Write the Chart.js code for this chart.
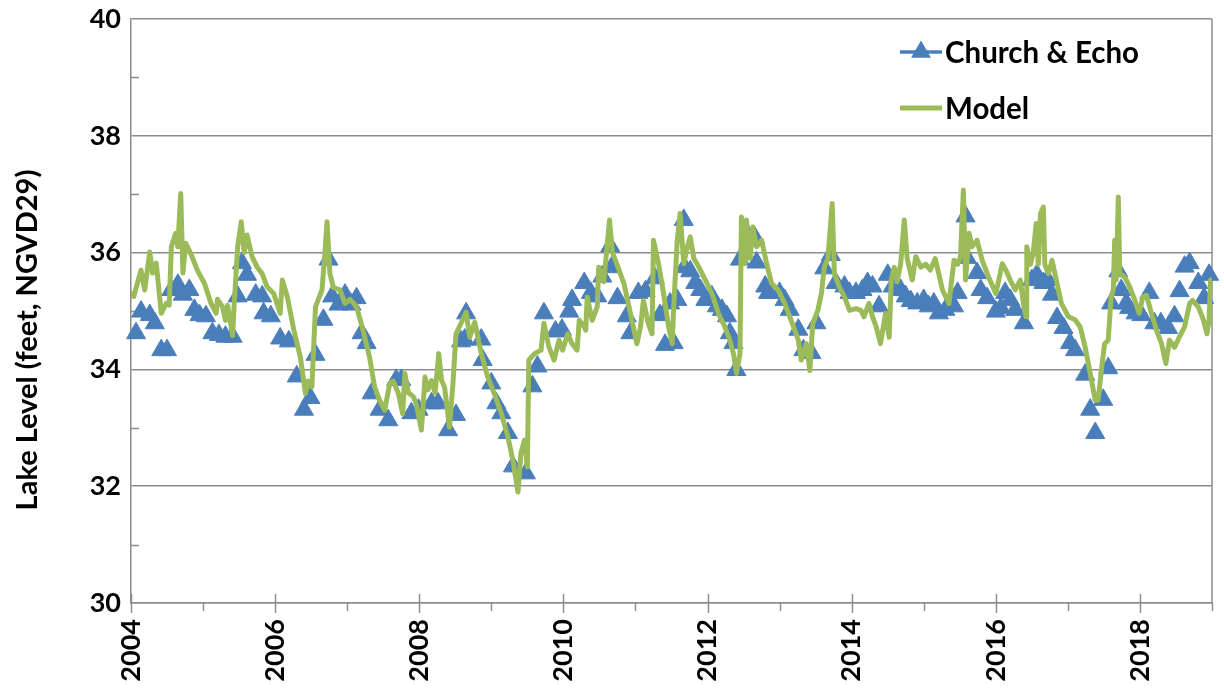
<!DOCTYPE html>
<html>
<head>
<meta charset="utf-8">
<title>Lake Level</title>
<script src="https://cdn.jsdelivr.net/npm/chart.js@4/dist/chart.umd.min.js"></script>
<style>
  html, body { margin: 0; padding: 0; background: #ffffff; }
  #wrap { width: 1224px; height: 692px; }
</style>
</head>
<body>
<div id="wrap"><canvas id="chart" width="1224" height="692"></canvas></div>
<script>
// Observed lake level, Church & Echo gauge (decimal year, feet NGVD29)
const obsYears = [
  2004.07, 2004.14, 2004.26, 2004.33, 2004.42, 2004.50, 2004.56, 2004.65, 2004.72, 2004.81,
  2004.88, 2004.95, 2005.04, 2005.13, 2005.22, 2005.31, 2005.41, 2005.48, 2005.54, 2005.61,
  2005.73, 2005.82, 2005.84, 2005.94, 2006.07, 2006.19, 2006.30, 2006.40, 2006.49, 2006.56,
  2006.67, 2006.74, 2006.79, 2006.88, 2006.97, 2007.06, 2007.13, 2007.20, 2007.27, 2007.34,
  2007.45, 2007.57, 2007.68, 2007.75, 2007.89, 2007.99, 2008.17, 2008.26, 2008.40, 2008.51,
  2008.58, 2008.63, 2008.65, 2008.86, 2008.88, 2009.00, 2009.07, 2009.14, 2009.23, 2009.30,
  2009.48, 2009.57, 2009.64, 2009.73, 2009.89, 2009.98, 2010.08, 2010.12, 2010.29, 2010.38,
  2010.47, 2010.54, 2010.65, 2010.67, 2010.75, 2010.88, 2010.93, 2011.04, 2011.14, 2011.27,
  2011.34, 2011.41, 2011.48, 2011.53, 2011.58, 2011.67, 2011.68, 2011.76, 2011.83, 2011.90,
  2011.97, 2012.06, 2012.13, 2012.20, 2012.27, 2012.31, 2012.36, 2012.40, 2012.45, 2012.57,
  2012.66, 2012.68, 2012.80, 2012.84, 2013.00, 2013.07, 2013.14, 2013.26, 2013.33, 2013.44,
  2013.51, 2013.62, 2013.71, 2013.78, 2013.90, 2013.97, 2014.06, 2014.15, 2014.22, 2014.29,
  2014.38, 2014.50, 2014.57, 2014.68, 2014.75, 2014.82, 2014.91, 2015.00, 2015.07, 2015.14,
  2015.21, 2015.30, 2015.42, 2015.47, 2015.58, 2015.60, 2015.74, 2015.79, 2015.88, 2016.00,
  2016.07, 2016.13, 2016.20, 2016.27, 2016.39, 2016.50, 2016.57, 2016.66, 2016.72, 2016.78,
  2016.85, 2016.94, 2017.03, 2017.10, 2017.24, 2017.31, 2017.38, 2017.49, 2017.56, 2017.60,
  2017.70, 2017.74, 2017.81, 2017.85, 2017.94, 2018.02, 2018.13, 2018.20, 2018.29, 2018.39,
  2018.48, 2018.55, 2018.62, 2018.69, 2018.81, 2018.89, 2018.96
];
const obsLevels = [
  34.62, 34.99, 34.93, 34.79, 34.33, 34.33, 35.36, 35.45, 35.28, 35.36,
  35.02, 34.93, 34.91, 34.62, 34.59, 34.56, 34.56, 35.25, 35.82, 35.62,
  35.28, 35.25, 34.96, 34.91, 34.53, 34.48, 33.88, 33.31, 33.51, 34.25,
  34.85, 35.88, 35.25, 35.11, 35.28, 35.11, 35.22, 34.62, 34.45, 33.59,
  33.31, 33.13, 33.82, 33.82, 33.25, 33.31, 33.42, 33.42, 32.96, 33.22,
  34.48, 34.51, 34.96, 34.51, 34.16, 33.76, 33.42, 33.25, 32.91, 32.34,
  32.22, 33.71, 34.05, 34.96, 34.65, 34.68, 34.99, 35.19, 35.48, 35.31,
  35.25, 35.59, 36.11, 35.75, 35.22, 34.91, 34.62, 35.31, 35.34, 35.56,
  34.93, 34.42, 35.13, 34.45, 35.19, 36.56, 35.75, 35.68, 35.48, 35.36,
  35.19, 35.25, 35.08, 35.02, 34.91, 34.62, 34.45, 33.99, 35.88, 36.28,
  36.25, 35.83, 35.42, 35.31, 35.31, 35.19, 35.02, 34.68, 34.33, 34.28,
  34.79, 35.73, 35.96, 35.48, 35.42, 35.31, 35.31, 35.36, 35.48, 35.42,
  35.08, 35.62, 35.42, 35.36, 35.25, 35.17, 35.13, 35.19, 35.08, 35.13,
  34.96, 35.02, 35.08, 35.31, 36.62, 35.91, 35.65, 35.36, 35.22, 34.99,
  35.05, 35.31, 35.19, 35.02, 34.79, 35.53, 35.62, 35.48, 35.53, 35.28,
  34.88, 34.71, 34.45, 34.33, 33.91, 33.31, 32.91, 33.48, 34.02, 35.13,
  35.68, 35.36, 35.13, 35.05, 34.96, 34.93, 35.31, 34.79, 34.79, 34.71,
  34.91, 35.34, 35.76, 35.82, 35.48, 35.22, 35.62
];

// Simulated lake level from the model
const modelYears = [
  2004.00, 2004.04, 2004.10, 2004.14, 2004.19, 2004.26, 2004.30, 2004.35, 2004.42, 2004.49,
  2004.53, 2004.56, 2004.62, 2004.65, 2004.69, 2004.72, 2004.76, 2004.83, 2004.92, 2005.02,
  2005.11, 2005.18, 2005.20, 2005.27, 2005.31, 2005.34, 2005.41, 2005.43, 2005.48, 2005.53,
  2005.57, 2005.61, 2005.68, 2005.75, 2005.82, 2005.89, 2005.98, 2006.07, 2006.10, 2006.17,
  2006.26, 2006.35, 2006.42, 2006.46, 2006.51, 2006.56, 2006.60, 2006.65, 2006.69, 2006.72,
  2006.76, 2006.81, 2006.90, 2006.97, 2007.04, 2007.13, 2007.22, 2007.31, 2007.38, 2007.45,
  2007.52, 2007.59, 2007.64, 2007.71, 2007.77, 2007.80, 2007.85, 2007.92, 2007.96, 2008.03,
  2008.08, 2008.12, 2008.17, 2008.22, 2008.27, 2008.31, 2008.35, 2008.42, 2008.47, 2008.51,
  2008.58, 2008.65, 2008.70, 2008.77, 2008.86, 2008.95, 2009.04, 2009.14, 2009.23, 2009.30,
  2009.37, 2009.41, 2009.46, 2009.50, 2009.52, 2009.60, 2009.69, 2009.73, 2009.80, 2009.87,
  2009.94, 2009.99, 2010.06, 2010.12, 2010.19, 2010.22, 2010.29, 2010.31, 2010.33, 2010.40,
  2010.47, 2010.49, 2010.56, 2010.64, 2010.68, 2010.74, 2010.84, 2010.93, 2011.02, 2011.07,
  2011.11, 2011.18, 2011.23, 2011.25, 2011.32, 2011.39, 2011.46, 2011.51, 2011.53, 2011.58,
  2011.62, 2011.67, 2011.72, 2011.76, 2011.81, 2011.88, 2011.97, 2012.06, 2012.15, 2012.24,
  2012.31, 2012.36, 2012.40, 2012.45, 2012.47, 2012.52, 2012.54, 2012.59, 2012.63, 2012.68,
  2012.75, 2012.82, 2012.89, 2012.98, 2013.07, 2013.16, 2013.26, 2013.30, 2013.37, 2013.42,
  2013.46, 2013.53, 2013.58, 2013.62, 2013.67, 2013.73, 2013.76, 2013.83, 2013.90, 2013.97,
  2014.06, 2014.13, 2014.17, 2014.24, 2014.29, 2014.34, 2014.40, 2014.47, 2014.52, 2014.55,
  2014.59, 2014.63, 2014.68, 2014.73, 2014.77, 2014.84, 2014.89, 2014.96, 2015.03, 2015.09,
  2015.16, 2015.26, 2015.35, 2015.42, 2015.47, 2015.51, 2015.55, 2015.58, 2015.63, 2015.67,
  2015.74, 2015.81, 2015.90, 2016.00, 2016.09, 2016.14, 2016.20, 2016.27, 2016.34, 2016.39,
  2016.42, 2016.43, 2016.48, 2016.52, 2016.56, 2016.59, 2016.62, 2016.66, 2016.68, 2016.73,
  2016.78, 2016.85, 2016.91, 2017.01, 2017.10, 2017.17, 2017.24, 2017.31, 2017.38, 2017.42,
  2017.47, 2017.51, 2017.56, 2017.60, 2017.63, 2017.65, 2017.67, 2017.70, 2017.72, 2017.79,
  2017.86, 2017.93, 2017.99, 2018.04, 2018.09, 2018.16, 2018.23, 2018.30, 2018.36, 2018.41,
  2018.48, 2018.55, 2018.62, 2018.69, 2018.73, 2018.81, 2018.88, 2018.93, 2018.96, 2018.98
];
const modelLevels = [
  35.30, 35.25, 35.53, 35.70, 35.36, 36.01, 35.65, 35.82, 34.96, 35.13,
  35.10, 36.10, 36.33, 36.10, 37.01, 35.65, 36.16, 35.98, 35.70, 35.47,
  35.13, 34.96, 35.20, 35.07, 34.84, 35.10, 34.58, 35.07, 36.10, 36.53,
  36.00, 36.30, 35.93, 35.75, 35.64, 35.41, 35.30, 34.96, 35.53, 35.24,
  34.67, 34.21, 33.59, 33.80, 33.70, 35.07, 35.20, 35.36, 35.98, 36.53,
  35.64, 35.40, 35.36, 35.13, 35.20, 35.07, 34.67, 34.21, 33.70, 33.47,
  33.30, 33.76, 33.80, 33.59, 33.24, 33.93, 33.60, 33.53, 33.40, 32.96,
  33.87, 33.65, 33.81, 33.60, 34.27, 33.81, 33.70, 33.01, 33.81, 34.61,
  34.79, 34.98, 34.55, 34.81, 34.27, 33.87, 33.59, 33.24, 32.84, 32.44,
  31.90, 32.56, 32.79, 32.33, 34.16, 34.27, 34.33, 34.79, 34.38, 34.16,
  34.50, 34.33, 34.61, 34.44, 34.33, 34.84, 34.73, 34.67, 35.24, 34.84,
  35.07, 35.75, 35.50, 36.56, 36.00, 35.81, 35.47, 34.96, 34.44, 34.73,
  35.18, 34.78, 34.61, 36.21, 35.81, 35.30, 34.73, 34.44, 35.07, 36.21,
  36.67, 35.81, 36.10, 36.27, 35.90, 35.75, 35.53, 35.30, 34.96, 34.73,
  34.50, 34.27, 33.93, 34.27, 36.61, 35.81, 36.56, 35.90, 36.44, 36.10,
  36.21, 35.81, 35.47, 35.36, 35.13, 34.84, 34.50, 34.16, 34.44, 33.98,
  34.78, 35.01, 35.30, 35.75, 35.90, 36.84, 35.64, 35.41, 35.24, 35.01,
  35.04, 35.01, 34.90, 35.13, 34.90, 34.73, 34.44, 34.96, 34.55, 35.53,
  35.75, 35.50, 35.81, 36.56, 35.90, 35.53, 35.93, 35.75, 35.80, 35.70,
  35.90, 35.36, 35.13, 35.87, 35.80, 35.93, 37.07, 35.53, 36.33, 36.10,
  36.21, 35.87, 35.58, 35.30, 35.81, 35.70, 35.53, 35.36, 35.53, 35.07,
  34.90, 36.10, 35.80, 36.00, 36.50, 35.80, 36.67, 36.78, 35.80, 35.64,
  35.87, 35.47, 35.13, 34.90, 34.85, 34.73, 34.38, 33.93, 33.47, 33.47,
  34.04, 34.44, 34.50, 35.24, 35.36, 36.21, 35.53, 36.95, 35.64, 35.58,
  35.41, 35.18, 34.96, 35.24, 35.27, 34.96, 34.67, 34.44, 34.10, 34.50,
  34.38, 34.56, 34.73, 35.13, 35.18, 35.07, 34.85, 34.61, 34.85, 35.53
];

const seriesNames = ['Church & Echo', 'Model'];
const yAxisTitle = 'Lake Level (feet, NGVD29)';
const yearRange = [2004, 2019];
const levelRange = [30, 40];

const BLUE = '#4a7ebb';
const GREEN = '#9bbb59';
const AXIS_GREY = '#8c8c8c';
const FONT = 'Lato, "Open Sans", sans-serif';

function toPoints(xs, ys) {
  return xs.map((x, i) => ({ x: x, y: ys[i] }));
}

// Frame, minor/major tick marks, axis title and in-plot legend
const decorations = {
  id: 'decorations',
  beforeDatasetsDraw(chart) {
    const { ctx, chartArea: a, scales } = chart;
    ctx.save();
    ctx.strokeStyle = AXIS_GREY;
    ctx.lineWidth = 1.5;
    // right edge of the plot frame
    ctx.beginPath();
    ctx.moveTo(a.right, a.top);
    ctx.lineTo(a.right, a.bottom);
    ctx.stroke();
    // year ticks: even years cross the axis, odd years hang below
    const xs = scales.x;
    for (let yr = yearRange[0]; yr <= yearRange[1]; yr++) {
      const px = Math.round(xs.getPixelForValue(yr)) + 0.5;
      ctx.beginPath();
      if (yr % 2 === 0) {
        ctx.moveTo(px, a.bottom - 9);
        ctx.lineTo(px, a.bottom + 10);
      } else {
        ctx.moveTo(px, a.bottom);
        ctx.lineTo(px, a.bottom + 8);
      }
      ctx.stroke();
    }
    // minor level ticks inside the left axis
    const ys = scales.y;
    for (let v = levelRange[0] + 1; v < levelRange[1]; v += 2) {
      const py = Math.round(ys.getPixelForValue(v)) + 0.5;
      ctx.beginPath();
      ctx.moveTo(a.left, py);
      ctx.lineTo(a.left + 8, py);
      ctx.stroke();
    }
    ctx.restore();
  },
  afterDraw(chart) {
    const { ctx } = chart;
    ctx.save();
    // vertical axis title
    ctx.fillStyle = '#000';
    ctx.font = 'bold 29px ' + FONT;
    ctx.textAlign = 'center';
    ctx.textBaseline = 'middle';
    ctx.translate(28, 340);
    ctx.rotate(-Math.PI / 2);
    ctx.fillText(yAxisTitle, 0, 0);
    ctx.restore();

    // legend in the upper right of the plot
    ctx.save();
    const x0 = 900, x1 = 942, rows = [52, 108];
    chart.data.datasets.forEach((ds, i) => {
      const y = rows[i];
      ctx.strokeStyle = ds.borderColor;
      ctx.lineWidth = i === 0 ? 3.5 : 5;
      ctx.beginPath();
      ctx.moveTo(x0, y);
      ctx.lineTo(x1, y);
      ctx.stroke();
      if (ds.pointStyle === 'triangle') {
        const r = 11.5, cx = (x0 + x1) / 2;
        ctx.fillStyle = ds.backgroundColor;
        ctx.beginPath();
        ctx.moveTo(cx, y - r);
        ctx.lineTo(cx + r * Math.sqrt(3) / 2, y + r / 2);
        ctx.lineTo(cx - r * Math.sqrt(3) / 2, y + r / 2);
        ctx.closePath();
        ctx.fill();
      }
      ctx.fillStyle = '#000';
      ctx.font = 'bold 29.5px ' + FONT;
      ctx.textAlign = 'left';
      ctx.textBaseline = 'middle';
      ctx.fillText(ds.label, x1 + 3, y + 1);
    });
    ctx.restore();
  }
};

new Chart(document.getElementById('chart'), {
  type: 'scatter',
  data: {
    datasets: [
      {
        label: seriesNames[0],
        data: toPoints(obsYears, obsLevels),
        showLine: false,
        pointStyle: 'triangle',
        pointRadius: 11,
        pointBorderWidth: 1,
        backgroundColor: BLUE,
        borderColor: BLUE,
        clip: false,
        order: 2
      },
      {
        label: seriesNames[1],
        data: toPoints(modelYears, modelLevels),
        showLine: true,
        borderColor: GREEN,
        backgroundColor: GREEN,
        borderWidth: 5,
        borderJoinStyle: 'round',
        borderCapStyle: 'round',
        pointRadius: 0,
        tension: 0,
        order: 1
      }
    ]
  },
  options: {
    responsive: false,
    animation: false,
    devicePixelRatio: 1,
    layout: { padding: { top: 19, right: 6, left: 0, bottom: 0 } },
    plugins: {
      legend: { display: false },
      tooltip: { enabled: false }
    },
    scales: {
      x: {
        type: 'linear',
        min: yearRange[0],
        max: yearRange[1],
        afterFit(scale) {
          scale.height = 89;
          scale.paddingLeft = 0;
          scale.paddingRight = 0;
        },
        ticks: {
          stepSize: 1,
          autoSkip: false,
          minRotation: 90,
          maxRotation: 90,
          padding: 16,
          color: '#000',
          font: { family: FONT, size: 27, weight: 'bold' },
          callback: (v) => (v % 2 === 0 && v < yearRange[1]) ? String(v) : ''
        },
        grid: { drawOnChartArea: false, drawTicks: false },
        border: { color: AXIS_GREY, width: 1.5 }
      },
      y: {
        min: levelRange[0],
        max: levelRange[1],
        afterFit(scale) {
          scale.width = 131;
          scale.paddingTop = 0;
          scale.paddingBottom = 0;
        },
        ticks: {
          stepSize: 1,
          autoSkip: false,
          padding: 10,
          color: '#000',
          font: { family: FONT, size: 27, weight: 'bold' },
          callback: (v) => (v % 2 === 0) ? String(v) : ''
        },
        grid: {
          drawTicks: false,
          lineWidth: 1.5,
          color: (c) => (c.tick && c.tick.value % 2 === 0) ? AXIS_GREY : 'rgba(0,0,0,0)'
        },
        border: { color: AXIS_GREY, width: 1.5 }
      }
    }
  },
  plugins: [decorations]
});
</script>
</body>
</html>
